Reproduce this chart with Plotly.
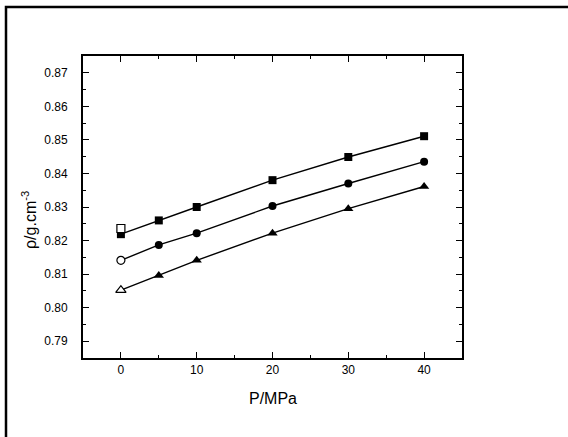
import plotly.graph_objects as go

# pressure (MPa)
p_fit = [0, 5, 10, 20, 30, 40]

# fitted / filled points
rho_sq = [0.8219, 0.8260, 0.8300, 0.8380, 0.8449, 0.8511]
rho_ci = [0.8141, 0.8187, 0.8222, 0.8303, 0.8370, 0.8435]
rho_tr = [0.8052, 0.8096, 0.8141, 0.8222, 0.8295, 0.8361]

# open markers at atmospheric pressure
p_open = [0]
rho_sq_open = [0.8236]
rho_ci_open = [0.8141]
rho_tr_open = [0.8052]

y_ticks = [0.79, 0.80, 0.81, 0.82, 0.83, 0.84, 0.85, 0.86, 0.87]
x_ticks = [0, 10, 20, 30, 40]

fig = go.Figure()

series = [
    (rho_sq, rho_sq_open, "square"),
    (rho_ci, rho_ci_open, "circle"),
    (rho_tr, rho_tr_open, "triangle-up"),
]
for y_fill, y_open, sym in series:
    start = 0 if sym == "square" else 1
    msize = 9 if sym == "triangle-up" else 8
    fig.add_trace(go.Scatter(
        x=p_fit, y=y_fill, mode="lines", line=dict(color="black", width=1.4),
        showlegend=False, hoverinfo="skip"))
    fig.add_trace(go.Scatter(
        x=p_fit[start:], y=y_fill[start:], mode="markers",
        marker=dict(symbol=sym, size=msize, color="black"),
        showlegend=False))
    fig.add_trace(go.Scatter(
        x=p_open, y=y_open, mode="markers",
        marker=dict(symbol=sym, size=msize, color="white",
                    line=dict(color="black", width=1.2)),
        showlegend=False))

# dummy trace so the mirrored axes are drawn
fig.add_trace(go.Scatter(x=[None], y=[None], xaxis="x2", yaxis="y2", showlegend=False))

font_ax = dict(family="Liberation Sans, Arial", size=12, color="black")
font_title = dict(family="Liberation Sans, Arial", size=16, color="black")
xr = [-5, 45]
yr = [0.785, 0.875]

common = dict(ticks="inside", ticklen=6, tickwidth=1, tickcolor="black",
              showline=True, linecolor="black", linewidth=2, showgrid=False,
              zeroline=False, automargin=False)

fig.update_layout(
    width=568, height=437,
    margin=dict(l=83, r=106, t=56, b=79, autoexpand=False),
    paper_bgcolor="white", plot_bgcolor="white",
    font=font_ax,
    xaxis=dict(range=xr, tickvals=x_ticks, tickfont=font_ax, ticklabelstandoff=0,
               minor=dict(dtick=5, tick0=0, ticks="inside", ticklen=3, tickcolor="black"),
               **common),
    yaxis=dict(range=yr, tickvals=y_ticks, tickformat=".2f", tickfont=font_ax,
               ticklabelstandoff=11,
               minor=dict(dtick=0.005, tick0=0, ticks="inside", ticklen=3, tickcolor="black"),
               **common),
    xaxis2=dict(range=xr, overlaying="x", side="top", tickvals=x_ticks,
                showticklabels=False,
                minor=dict(dtick=5, tick0=0, ticks="inside", ticklen=3, tickcolor="black"),
                **common),
    yaxis2=dict(range=yr, overlaying="y", side="right", tickvals=y_ticks,
                showticklabels=False,
                minor=dict(dtick=0.005, tick0=0, ticks="inside", ticklen=3, tickcolor="black"),
                **common),
)

# axis titles
fig.add_annotation(text="P/MPa", xref="paper", yref="paper",
                   x=0.5, y=(358 - 398) / 302, xanchor="center", yanchor="middle",
                   showarrow=False, font=font_title)
fig.add_annotation(text="ρ/g.cm<sup>-3</sup>", xref="paper", yref="paper",
                   x=(29 - 83) / 379, y=(358 - 220) / 302, textangle=-90,
                   xanchor="center", yanchor="middle", showarrow=False, font=font_title)

# outer frame (table cell border), right and bottom edges fall outside the page
fig.add_shape(type="rect", xref="paper", yref="paper",
              x0=(6 - 83) / 379, x1=(590 - 83) / 379,
              y0=(358 - 460) / 302, y1=(358 - 7) / 302,
              line=dict(color="black", width=2.5), layer="below")

# cut-off glyph at the top edge
fig.add_annotation(text="1", xref="paper", yref="paper",
                   x=(489 - 83) / 379, y=(358 - 5) / 302,
                   xanchor="center", yanchor="bottom", showarrow=False,
                   font=dict(family="Liberation Serif", size=14, color="black"))

fig.write_html("out.html", config={"displayModeBar": False},
               post_script="document.body.style.margin='0';")
